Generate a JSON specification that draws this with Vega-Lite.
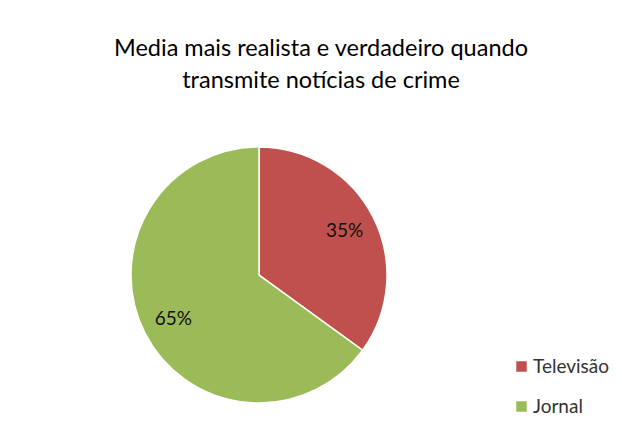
{
  "$schema": "https://vega.github.io/schema/vega-lite/v6.json",
  "autosize": "none",
  "width": 260,
  "height": 260,
  "padding": {"left": 129, "top": 145, "right": 233, "bottom": 34},
  "background": "white",
  "config": {"view": {"stroke": null}, "font": "Lato"},
  "title": {
    "text": ["Media mais realista e verdadeiro quando", "transmite notícias de crime"],
    "font": "Lato",
    "fontSize": 23.5,
    "fontWeight": "normal",
    "color": "#000000",
    "anchor": "middle",
    "frame": "group",
    "dx": 62,
    "offset": 52,
    "lineHeight": 32
  },
  "data": {
    "values": [
      {"media": "Televisão", "pct": 35, "ord": 1, "label": "35%"},
      {"media": "Jornal", "pct": 65, "ord": 2, "label": "65%"}
    ]
  },
  "encoding": {
    "theta": {"field": "pct", "type": "quantitative", "stack": true},
    "order": {"field": "ord", "type": "quantitative"},
    "color": {
      "field": "media",
      "type": "nominal",
      "sort": ["Televisão", "Jornal"],
      "scale": {"domain": ["Televisão", "Jornal"], "range": ["#C0504D", "#9BBB59"]},
      "legend": {
        "title": null,
        "orient": "none",
        "legendX": 383,
        "legendY": 212,
        "symbolType": "square",
        "symbolSize": 110,
        "symbolStrokeWidth": 0,
        "labelFont": "Lato",
        "labelFontSize": 19,
        "labelColor": "#333333",
        "labelOffset": 2,
        "rowPadding": 20,
        "padding": 0
      }
    }
  },
  "layer": [
    {
      "mark": {"type": "arc", "outerRadius": 128, "stroke": "white", "strokeWidth": 1.5}
    },
    {
      "mark": {"type": "text", "radius": 96, "fontSize": 19, "font": "Lato", "fill": "#111111"},
      "encoding": {
        "text": {"field": "label", "type": "nominal"},
        "color": {"value": "#111111"}
      }
    }
  ]
}
